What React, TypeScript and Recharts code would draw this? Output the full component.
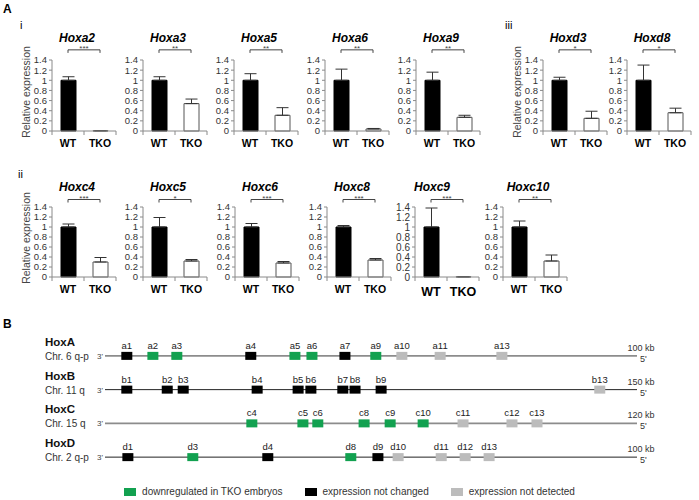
import React from 'react';
import {
  BarChart, Bar, Cell, XAxis, YAxis, ErrorBar, ReferenceLine,
  ScatterChart, Scatter, Legend,
} from 'recharts';

const FONT = '"Liberation Sans", Arial, Helvetica, sans-serif';
const AXIS = '#8a8a8a';

// ---- panel A: relative expression, WT vs TKO ----
const groups = ['WT', 'TKO'];
const yTicks = [0, 0.2, 0.4, 0.6, 0.8, 1, 1.2, 1.4];

const genes = ['Hoxa2', 'Hoxa3', 'Hoxa5', 'Hoxa6', 'Hoxa9', 'Hoxd3', 'Hoxd8',
  'Hoxc4', 'Hoxc5', 'Hoxc6', 'Hoxc8', 'Hoxc9', 'Hoxc10'];
const wtMean = [1, 1, 1, 1, 1, 1, 1, 1, 1, 1, 1, 1, 1];
const wtErr = [0.07, 0.07, 0.13, 0.22, 0.16, 0.06, 0.3, 0.06, 0.19, 0.07, 0.03, 0.38, 0.12];
const tkoMean = [0.005, 0.54, 0.31, 0.04, 0.27, 0.25, 0.36, 0.3, 0.32, 0.28, 0.34, 0.004, 0.32];
const tkoErr = [0, 0.09, 0.15, 0.01, 0.04, 0.14, 0.09, 0.09, 0.03, 0.03, 0.03, 0, 0.12];
const significance = ['***', '**', '**', '**', '**', '*', '*', '***', '*', '***', '***', '***', '**'];

// where each little chart goes on the page
const chartLayout = [
  { axisX: 52, row: 0, yLabel: true },
  { axisX: 143, row: 0 },
  { axisX: 234, row: 0 },
  { axisX: 325, row: 0 },
  { axisX: 416, row: 0 },
  { axisX: 543, row: 0, yLabel: true },
  { axisX: 627, row: 0 },
  { axisX: 52, row: 1, yLabel: true },
  { axisX: 143, row: 1 },
  { axisX: 235, row: 1 },
  { axisX: 327, row: 1 },
  { axisX: 415, row: 1, big: true, titleShift: -8 },
  { axisX: 503, row: 1 },
];
const rowLayout = [
  { plotTop: 60, plotH: 71, bracket: 1.6, titleY: 38 },
  { plotTop: 207, plotH: 70, bracket: 1.55, titleY: 187 },
];

const PLOT_W = 64;
const Y_W = 34;
const M_TOP = 30;
const X_H = 28;

function ExprChart({ i }: { i: number }) {
  const lay: any = chartLayout[i];
  const r = rowLayout[lay.row];
  const data = groups.map((g, k) => ({
    x: k + 0.5,
    group: g,
    value: k === 0 ? wtMean[i] : tkoMean[i],
    err: [0, k === 0 ? wtErr[i] : tkoErr[i]],
  }));
  const labelSize = lay.big ? 12.5 : 10.5;
  const tickSize = lay.big ? 10 : 9.5;
  const b = r.bracket;

  const xTick = (p: any) => {
    const v = p.payload.value;
    if (Number.isInteger(v)) {
      return <line x1={p.x} x2={p.x} y1={p.y} y2={p.y + 4} stroke={AXIS} />;
    }
    return (
      <text x={p.x} y={p.y + (lay.big ? 19 : 16)} textAnchor="middle"
        fontSize={labelSize} fontWeight="bold" fill="#000" fontFamily={FONT}>
        {groups[Math.floor(v)]}
      </text>
    );
  };

  return (
    <>
      <div style={{
        position: 'absolute', left: lay.axisX + PLOT_W / 2 - 57 + (lay.titleShift || 0), width: 100, top: r.titleY - 6,
        textAlign: 'center', fontSize: 12, lineHeight: '12px', fontWeight: 'bold', fontStyle: 'italic',
      }}>{genes[i]}</div>
      {lay.yLabel && (
        <div style={{
          position: 'absolute', left: lay.axisX - 26, top: r.plotTop + r.plotH / 2 - 4,
          transform: 'translate(-50%, -50%) rotate(-90deg)', whiteSpace: 'nowrap',
          fontSize: 10.5, color: '#444', lineHeight: '12px',
        }}>Relative expression</div>
      )}
      <div style={{ position: 'absolute', left: lay.axisX - Y_W, top: r.plotTop - M_TOP }}>
        <BarChart width={Y_W + PLOT_W + 4} height={M_TOP + r.plotH + X_H} data={data}
          margin={{ top: M_TOP, right: 4, bottom: 0, left: 0 }}>
          <XAxis dataKey="x" type="number" domain={[0, 2]} ticks={[0, 0.5, 1, 1.5, 2]} interval={0}
            tickSize={0} tickMargin={0} tickLine={false} axisLine={{ stroke: AXIS }} tick={xTick} height={X_H} />
          <YAxis type="number" domain={[0, 1.4]} ticks={yTicks} interval={0} width={Y_W}
            tickSize={3} tickMargin={2} axisLine={{ stroke: AXIS }} tickLine={{ stroke: AXIS }}
            tick={{ fontSize: tickSize, fill: '#333', fontFamily: FONT }}
            tickFormatter={(v: number) => String(v)} />
          <ReferenceLine segment={[{ x: 0.5, y: b }, { x: 1.5, y: b }]} stroke="#444" ifOverflow="visible"
            label={{ value: significance[i], position: 'top', fontSize: 8, fill: '#444', offset: -1.5 }} />
          <ReferenceLine segment={[{ x: 0.5, y: b }, { x: 0.5, y: b - 0.06 }]} stroke="#444" ifOverflow="visible" />
          <ReferenceLine segment={[{ x: 1.5, y: b }, { x: 1.5, y: b - 0.06 }]} stroke="#444" ifOverflow="visible" />
          <Bar dataKey="value" barSize={15} isAnimationActive={false}>
            {data.map((d, k) => (
              <Cell key={d.group} fill={k === 0 ? '#000' : '#fff'} stroke={k === 0 ? '#000' : '#555'} strokeWidth={1} />
            ))}
            <ErrorBar dataKey="err" direction="y" width={6} stroke="#333" strokeWidth={1} />
          </Bar>
        </BarChart>
      </div>
    </>
  );
}

// ---- panel B: Hox cluster maps ----
const clusters = ['HoxA', 'HoxB', 'HoxC', 'HoxD'];
const chromosomes = ['Chr. 6 q-p', 'Chr. 11 q', 'Chr. 15 q', 'Chr. 2 q-p'];
const clusterSizes = ['100 kb', '150 kb', '120 kb', '100 kb'];
const statusNames = ['downregulated in TKO embryos', 'expression not changed', 'expression not detected'];
const statusColors = ['#12a150', '#000000', '#bcbcbc'];
const lineColors = ['#8c8c8c', '#222222', '#8c8c8c', '#222222'];

// position along the drawn cluster (% of line length); status 0 down, 1 unchanged, 2 not detected
const hoxAGenes = ['a1', 'a2', 'a3', 'a4', 'a5', 'a6', 'a7', 'a9', 'a10', 'a11', 'a13'];
const hoxAPos = [4.1, 9.0, 13.5, 27.4, 35.7, 38.9, 45.1, 50.9, 55.8, 63.0, 74.6];
const hoxAStatus = [1, 0, 0, 1, 0, 0, 1, 0, 2, 2, 2];

const hoxBGenes = ['b1', 'b2', 'b3', 'b4', 'b5', 'b6', 'b7', 'b8', 'b9', 'b13'];
const hoxBPos = [4.1, 11.7, 14.7, 28.6, 36.3, 38.7, 44.7, 47.0, 51.9, 93.0];
const hoxBStatus = [1, 1, 1, 1, 1, 1, 1, 1, 1, 2];

const hoxCGenes = ['c4', 'c5', 'c6', 'c8', 'c9', 'c10', 'c11', 'c12', 'c13'];
const hoxCPos = [27.6, 37.2, 40.0, 48.7, 53.6, 59.8, 67.3, 76.5, 81.2];
const hoxCStatus = [0, 0, 0, 0, 0, 0, 2, 2, 2];

const hoxDGenes = ['d1', 'd3', 'd4', 'd8', 'd9', 'd10', 'd11', 'd12', 'd13'];
const hoxDPos = [4.3, 16.5, 30.6, 46.2, 51.3, 55.1, 63.2, 67.7, 72.2];
const hoxDStatus = [1, 0, 1, 0, 1, 2, 2, 2, 2];

const clusterGenes: [string[], number[], number[]][] = [
  [hoxAGenes, hoxAPos, hoxAStatus],
  [hoxBGenes, hoxBPos, hoxBStatus],
  [hoxCGenes, hoxCPos, hoxCStatus],
  [hoxDGenes, hoxDPos, hoxDStatus],
];
const genePoints = clusterGenes.flatMap(([names, pos, st], r) =>
  names.map((n, k) => ({ name: n, pos: pos[k], row: r + 1, status: st[k] })));

function geneShape(p: any, color: string) {
  const { cx, cy, payload } = p;
  return (
    <g>
      <rect x={cx - 5.5} y={cy - 4} width={11} height={8} fill={color} />
      <text x={cx} y={cy - 7} textAnchor="middle" fontSize={9.5} fill="#222" fontFamily={FONT}>{payload.name}</text>
    </g>
  );
}

function clusterLabel(p: any, r: number) {
  const vb = p.viewBox || {};
  const x = vb.x, y = vb.y, w = vb.width;
  return (
    <g fontFamily={FONT}>
      <text x={x - 60} y={y - 10} fontSize={11.5} fontWeight="bold" fill="#111">{clusters[r]}</text>
      <text x={x - 60} y={y + 4} fontSize={10} fill="#333">{chromosomes[r]}</text>
      <text x={x - 2} y={y + 3} fontSize={8} fill="#444" textAnchor="end">3'</text>
      <text x={x + w + 4} y={y - 5} fontSize={9} fill="#333" textAnchor="middle">{clusterSizes[r]}</text>
      <text x={x + w + 3} y={y + 6} fontSize={9} fill="#333">5'</text>
    </g>
  );
}

function legendContent(props: any) {
  const payload = props.payload || [];
  return (
    <div style={{ display: 'flex', justifyContent: 'center', gap: 22, fontSize: 10, color: '#333', fontFamily: FONT, lineHeight: '12px' }}>
      {payload.map((e: any, k: number) => (
        <span key={e.value} style={{ display: 'flex', alignItems: 'center' }}>
          <span style={{ display: 'inline-block', width: 12, height: 8, background: statusColors[k], marginRight: 6 }} />
          {e.value}
        </span>
      ))}
    </div>
  );
}

function ClusterMap() {
  return (
    <div style={{ position: 'absolute', left: 0, top: 320 }}>
      <ScatterChart width={699} height={180} margin={{ top: 19, right: 62, bottom: 26, left: 105 }}>
        <XAxis type="number" dataKey="pos" domain={[0, 100]} hide />
        <YAxis type="number" dataKey="row" domain={[0.5, 4.5]} reversed hide />
        {clusters.map((c, r) => (
          <ReferenceLine key={c} y={r + 1} stroke={lineColors[r]} strokeWidth={r % 2 === 0 ? 1.6 : 1}
            label={(p: any) => clusterLabel(p, r)} />
        ))}
        {statusNames.map((s, k) => (
          <Scatter key={s} name={s} data={genePoints.filter((g) => g.status === k)} fill={statusColors[k]}
            shape={(p: any) => geneShape(p, statusColors[k])} legendType="square" isAnimationActive={false} />
        ))}
        <Legend verticalAlign="middle" content={legendContent} wrapperStyle={{ top: 166, left: 0, width: 699 }} />
      </ScatterChart>
    </div>
  );
}

export default function App() {
  const tag = (t: string, left: number, top: number, bold = false) => (
    <div style={{ position: 'absolute', left, top, fontSize: bold ? 12 : 11, fontWeight: bold ? 'bold' : 'normal', lineHeight: '12px' }}>{t}</div>
  );
  return (
    <div style={{ position: 'absolute', left: 0, top: 0, width: 699, height: 500, background: '#fff', fontFamily: FONT, color: '#000', overflow: 'hidden' }}>
      {tag('A', 3, 3, true)}
      {tag('i', 20, 19)}
      {tag('iii', 505, 19)}
      {tag('ii', 18, 168)}
      {tag('B', 3, 318, true)}
      {genes.map((g, i) => <ExprChart key={g} i={i} />)}
      <ClusterMap />
    </div>
  );
}
